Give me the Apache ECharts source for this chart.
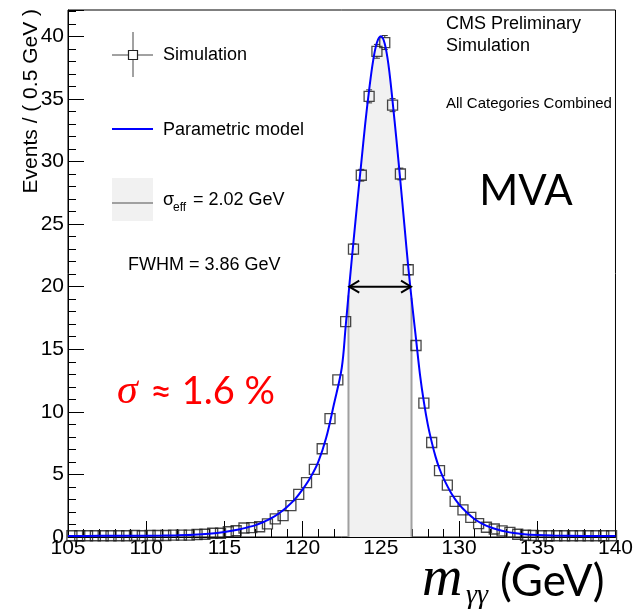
<!DOCTYPE html>
<html><head><meta charset="utf-8">
<script src="https://cdn.jsdelivr.net/npm/echarts@6/dist/echarts.min.js"></script>
<style>html,body{margin:0;padding:0;background:#fff}#c{width:636px;height:611px}</style>
</head><body><div id="c"></div>
<script>
// ---- data ----
const binCenters = [105.25,105.75,106.25,106.75,107.25,107.75,108.25,108.75,109.25,109.75,
  110.25,110.75,111.25,111.75,112.25,112.75,113.25,113.75,114.25,114.75,
  115.25,115.75,116.25,116.75,117.25,117.75,118.25,118.75,119.25,119.75,
  120.25,120.75,121.25,121.75,122.25,122.75,123.25,123.75,124.25,124.75,
  125.25,125.75,126.25,126.75,127.25,127.75,128.25,128.75,129.25,129.75,
  130.25,130.75,131.25,131.75,132.25,132.75,133.25,133.75,134.25,134.75,
  135.25,135.75,136.25,136.75,137.25,137.75,138.25,138.75,139.25,139.75];
const simValues = [0.1,0.1,0.1,0.1,0.1,0.1,0.1,0.1,0.12,0.1,
  0.12,0.12,0.12,0.15,0.15,0.15,0.2,0.22,0.3,0.3,
  0.42,0.5,0.72,0.75,0.82,1.05,1.45,1.7,2.5,3.4,
  4.35,5.4,7.05,9.45,12.55,17.2,23.0,28.9,35.2,38.8,
  39.5,34.5,29.0,21.35,15.3,10.7,7.55,5.3,4.15,2.85,
  2.16,1.57,1.07,0.78,0.64,0.49,0.37,0.22,0.14,0.12,
  0.1,0.1,0.1,0.1,0.1,0.1,0.1,0.1,0.1,0.1];
const simErrors = [0.03,0.03,0.03,0.03,0.03,0.03,0.03,0.03,0.03,0.03,
  0.03,0.03,0.03,0.04,0.04,0.04,0.04,0.05,0.05,0.05,
  0.06,0.07,0.08,0.08,0.09,0.1,0.11,0.12,0.14,0.16,
  0.18,0.2,0.23,0.27,0.31,0.36,0.42,0.47,0.52,0.55,
  0.56,0.52,0.47,0.41,0.35,0.29,0.24,0.2,0.18,0.15,
  0.13,0.11,0.09,0.08,0.07,0.06,0.05,0.04,0.04,0.03,
  0.03,0.03,0.03,0.03,0.03,0.03,0.03,0.03,0.03,0.03];
const modelMass = [105,107,109,111,112,113,114,115,116,116.5,
  117,117.5,118,118.5,119,119.5,120,120.5,121,121.5,
  122,122.5,122.75,123,123.25,123.5,123.75,124,124.25,124.5,
  124.75,125,125.25,125.5,125.75,126,126.25,126.5,126.75,127,
  127.25,127.5,127.75,128,128.25,128.5,128.75,129,129.5,130,
  130.5,131,131.5,132,132.5,133,133.5,134,135,136,
  138,140];
const modelValues = [0.08,0.09,0.1,0.12,0.14,0.18,0.26,0.4,0.62,0.78,
  0.95,1.2,1.5,1.9,2.4,3.0,3.8,4.75,6.0,7.9,
  10.6,13.5,16.8,20.3,23.6,26.8,29.9,33.0,35.7,38.0,
  39.5,40.0,39.4,37.6,34.8,31.7,28.4,25.0,21.6,18.6,
  15.8,13.0,10.8,9.0,7.6,6.4,5.45,4.7,3.5,2.6,
  1.95,1.42,1.05,0.78,0.58,0.43,0.32,0.24,0.15,0.11,
  0.08,0.07];
const sigmaEffEdges = [122.93, 126.96];
const sigmaEffEdgeHeights = [19.3, 19.1];
const fwhmEdges = [122.98, 126.93];
const fwhmHeight = 20;
const xRange = [105, 140];
const xStep = 5;
const yRange = [0, 42.1];
const yStep = 5;

// ---- build series data ----
const simData = binCenters.map((m, i) => [m, simValues[i], simErrors[i]]);
const modelData = modelMass.map((m, i) => [m, modelValues[i]]);
const bandData = [[sigmaEffEdges[0], sigmaEffEdgeHeights[0]]]
  .concat(modelData.filter(p => p[0] > sigmaEffEdges[0] && p[0] < sigmaEffEdges[1]))
  .concat([[sigmaEffEdges[1], sigmaEffEdgeHeights[1]]]);
const edgeData = sigmaEffEdges.map((m, i) => [m, sigmaEffEdgeHeights[i]]);

const ROOTFONT = 'Liberation Sans';
const SMOOTH = 0.35;
const chart = echarts.init(document.getElementById('c'), null, {renderer: 'canvas'});

chart.setOption({
  animation: false,
  backgroundColor: '#fff',
  grid: {left: 68, right: 18, top: 10, bottom: 74, show: true, borderColor: '#000', borderWidth: 1, backgroundColor: 'transparent'},
  xAxis: {
    type: 'value', min: xRange[0], max: xRange[1], interval: xStep,
    axisLine: {lineStyle: {color: '#000', width: 1}},
    axisTick: {inside: true, length: 16, lineStyle: {color: '#000', width: 1}},
    minorTick: {show: true, splitNumber: 5, length: 8, lineStyle: {color: '#000', width: 1}},
    splitLine: {show: false},
    axisLabel: {fontFamily: ROOTFONT, fontSize: 21, color: '#000', margin: 1}
  },
  yAxis: {
    type: 'value', min: yRange[0], max: yRange[1], interval: yStep,
    axisLine: {show: true, lineStyle: {color: '#000', width: 1}},
    axisTick: {show: true, inside: true, length: 16, lineStyle: {color: '#000', width: 1}},
    minorTick: {show: true, splitNumber: 5, length: 8, lineStyle: {color: '#000', width: 1}},
    splitLine: {show: false},
    axisLabel: {fontFamily: ROOTFONT, fontSize: 21, color: '#000', margin: 4, showMaxLabel: false}
  },
  series: [
    { // sigma_eff shaded band under the model
      type: 'line', data: bandData, smooth: SMOOTH, symbol: 'none', z: 1,
      lineStyle: {width: 0, opacity: 0}, areaStyle: {color: '#f1f1f1', opacity: 1}
    },
    { // sigma_eff edge lines
      type: 'custom', data: edgeData, z: 2,
      renderItem: (params, api) => {
        const top = api.coord([api.value(0), api.value(1)]);
        const bot = api.coord([api.value(0), 0]);
        return {type: 'line', shape: {x1: top[0], y1: top[1], x2: bot[0], y2: bot[1]},
          style: {stroke: '#a0a0a0', lineWidth: 2}};
      }
    },
    { // simulation error bars
      type: 'custom', data: simData, z: 3, encode: {x: 0, y: 1},
      renderItem: (params, api) => {
        const x = api.value(0), y = api.value(1), e = api.value(2);
        const c = api.coord([x, y]);
        const t = api.coord([x, y + e]);
        const b = api.coord([x, y - e]);
        const half = 5, cap = 3;
        const st = {stroke: '#333', lineWidth: 1};
        const ch = [];
        if (c[1] - t[1] > half) {
          ch.push({type: 'line', shape: {x1: c[0], y1: c[1] - half, x2: t[0], y2: t[1]}, style: st});
          ch.push({type: 'line', shape: {x1: t[0] - cap, y1: t[1], x2: t[0] + cap, y2: t[1]}, style: st});
        }
        if (b[1] - c[1] > half) {
          ch.push({type: 'line', shape: {x1: c[0], y1: c[1] + half, x2: b[0], y2: b[1]}, style: st});
          ch.push({type: 'line', shape: {x1: b[0] - cap, y1: b[1], x2: b[0] + cap, y2: b[1]}, style: st});
        }
        return {type: 'group', children: ch};
      }
    },
    { // simulation points
      type: 'scatter', data: simData.map(p => [p[0], p[1]]), z: 4,
      symbol: 'rect', symbolSize: 10,
      itemStyle: {color: 'rgba(0,0,0,0)', borderColor: '#1a1a1a', borderWidth: 1.3}
    },
    { // parametric model
      type: 'line', data: modelData, smooth: SMOOTH, symbol: 'none', z: 5,
      lineStyle: {color: '#0000ff', width: 2}
    },
    { // FWHM arrow
      type: 'custom', data: [[fwhmEdges[0], fwhmEdges[1], fwhmHeight]], z: 6,
      encode: {x: [0, 1], y: 2},
      renderItem: (params, api) => {
        const a = api.coord([api.value(0), api.value(2)]);
        const b = api.coord([api.value(1), api.value(2)]);
        const st = {stroke: '#000', lineWidth: 2, fill: null};
        return {type: 'group', children: [
          {type: 'line', shape: {x1: a[0], y1: a[1], x2: b[0], y2: b[1]}, style: st},
          {type: 'polyline', shape: {points: [[a[0] + 10, a[1] - 6], [a[0], a[1]], [a[0] + 10, a[1] + 6]]}, style: st},
          {type: 'polyline', shape: {points: [[b[0] - 10, b[1] - 6], [b[0], b[1]], [b[0] - 10, b[1] + 6]]}, style: st}
        ]};
      }
    }
  ],
  graphic: [
    // y axis title
    {type: 'text', x: 31, y: 9, rotation: Math.PI / 2,
      style: {text: 'Events / ( 0.5 GeV )', font: '21px "Liberation Sans"', fill: '#000', align: 'right', verticalAlign: 'middle'}},
    // top-right labels
    {type: 'text', x: 446, y: 24, style: {text: 'CMS Preliminary', font: '18px "Liberation Sans"', fill: '#000', align: 'left', verticalAlign: 'middle'}},
    {type: 'text', x: 446, y: 46, style: {text: 'Simulation', font: '18px "Liberation Sans"', fill: '#000', align: 'left', verticalAlign: 'middle'}},
    {type: 'text', x: 446, y: 104, style: {text: 'All Categories Combined', font: '15px "Liberation Sans"', fill: '#000', align: 'left', verticalAlign: 'middle'}},
    {type: 'text', x: 526, y: 191, style: {text: 'MVA', font: '42px Lato', fill: '#000', align: 'center', verticalAlign: 'middle'}},
    // legend: simulation
    {type: 'line', shape: {x1: 112, y1: 55, x2: 153, y2: 55}, style: {stroke: '#444', lineWidth: 1}},
    {type: 'line', shape: {x1: 133, y1: 32, x2: 133, y2: 77}, style: {stroke: '#444', lineWidth: 1}},
    {type: 'rect', shape: {x: 128.5, y: 50.5, width: 9, height: 9}, style: {fill: '#fff', stroke: '#222', lineWidth: 1.2}},
    {type: 'text', x: 163, y: 55, style: {text: 'Simulation', font: '18px "Liberation Sans"', fill: '#000', align: 'left', verticalAlign: 'middle'}},
    // legend: model
    {type: 'line', shape: {x1: 112, y1: 129, x2: 153, y2: 129}, style: {stroke: '#0000ff', lineWidth: 2}},
    {type: 'text', x: 163, y: 130, style: {text: 'Parametric model', font: '18px "Liberation Sans"', fill: '#000', align: 'left', verticalAlign: 'middle'}},
    // legend: sigma_eff
    {type: 'rect', shape: {x: 112, y: 178, width: 41, height: 43}, style: {fill: '#f1f1f1'}},
    {type: 'line', shape: {x1: 112, y1: 203, x2: 153, y2: 203}, style: {stroke: '#a0a0a0', lineWidth: 2}},
    {type: 'text', x: 163, y: 200, style: {text: 'σ', font: '18px "Liberation Sans"', fill: '#000', align: 'left', verticalAlign: 'middle'}},
    {type: 'text', x: 173, y: 208, style: {text: 'eff', font: '12px "Liberation Sans"', fill: '#000', align: 'left', verticalAlign: 'middle'}},
    {type: 'text', x: 193, y: 200, style: {text: '= 2.02 GeV', font: '18px "Liberation Sans"', fill: '#000', align: 'left', verticalAlign: 'middle'}},
    // FWHM text
    {type: 'text', x: 128, y: 265, style: {text: 'FWHM = 3.86 GeV', font: '18px "Liberation Sans"', fill: '#000', align: 'left', verticalAlign: 'middle'}},
    // sigma ~ 1.6 %
    {type: 'text', x: 117, y: 392, style: {text: 'σ', font: 'italic 42px "Liberation Serif"', fill: '#ff0000', align: 'left', verticalAlign: 'middle'}},
    {type: 'text', x: 150, y: 392, style: {text: '≈ 1.6 %', font: '38px Lato', fill: '#ff0000', align: 'left', verticalAlign: 'middle'}},
    // x axis title
    {type: 'text', x: 422, y: 580, style: {text: 'm', font: 'italic 56px "Liberation Serif"', fill: '#000', align: 'left', verticalAlign: 'middle'}},
    {type: 'text', x: 466, y: 596, style: {text: 'γγ', font: 'italic 28px "Liberation Serif"', fill: '#000', align: 'left', verticalAlign: 'middle'}},
    {type: 'text', x: 500, y: 582, style: {text: '(GeV)', font: '44px Lato', fill: '#000', align: 'left', verticalAlign: 'middle'}}
  ]
});
</script>
</body></html>
